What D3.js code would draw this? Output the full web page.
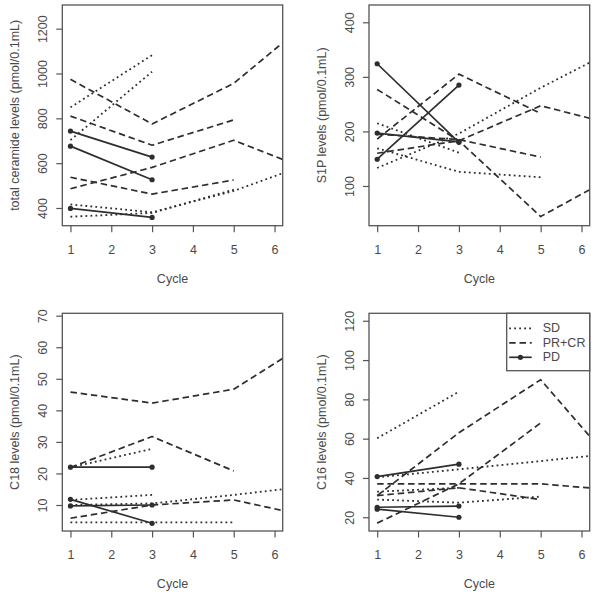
<!DOCTYPE html>
<html><head><meta charset="utf-8">
<script src="https://cdn.jsdelivr.net/npm/d3@7"></script>
<style>
body{margin:0;background:#fff}
text{font-family:"Liberation Sans",Arial,Helvetica,sans-serif;fill:#4a4a4a}
</style>
</head><body>
<svg id="c" width="598" height="601"></svg>
<script>
// ---------- data ----------
const cycleTicks = [1, 2, 3, 4, 5, 6];
const groups = ["SD", "PR+CR", "PD"];

// Each line: list of [cycle, value]
const ceramideSD = [
  [[1, 849], [3, 1082]],
  [[1, 703], [3, 1008]],
  [[1, 416], [3, 381], [5, 476], [7, 608]],
  [[1, 361], [3, 378], [5, 482]]
];
const ceramidePRCR = [
  [[1, 974], [3, 775], [5, 956], [7, 1258]],
  [[1, 810], [3, 680], [5, 793]],
  [[1, 486], [3, 581], [5, 702], [7, 560]],
  [[1, 537], [3, 462], [5, 525]]
];
const ceramidePD = [
  [[1, 743], [3, 627]],
  [[1, 676], [3, 526]],
  [[1, 398], [3, 358]]
];

const s1pSD = [
  [[1, 215], [3, 161]],
  [[1, 133], [3, 196], [5, 280], [7, 357]],
  [[1, 169], [3, 126], [5, 116]]
];
const s1pPRCR = [
  [[1, 277], [3, 183], [5, 44], [7, 126]],
  [[1, 186], [3, 305], [5, 233]],
  [[1, 195], [3, 185], [5, 153]],
  [[1, 160], [3, 183], [5, 247], [7, 209]]
];
const s1pPD = [
  [[1, 324], [3, 180]],
  [[1, 149], [3, 285]],
  [[1, 197], [3, 181]]
];

const c18SD = [
  [[1, 21.9], [3, 27.8]],
  [[1, 11.6], [3, 13.2]],
  [[1, 10.0], [3, 10.5], [5, 13.2], [7, 16.2]],
  [[1, 4.5], [3, 4.5], [5, 4.5]]
];
const c18PRCR = [
  [[1, 45.8], [3, 42.3], [5, 46.7], [7, 63.0]],
  [[1, 21.9], [3, 31.7], [5, 20.8]],
  [[1, 5.8], [3, 10.0], [5, 11.6], [7, 6.0]]
];
const c18PD = [
  [[1, 22.0], [3, 22.0]],
  [[1, 11.8], [3, 4.2]],
  [[1, 9.7], [3, 10.0]]
];

const c16SD = [
  [[1, 60.2], [3, 83.9]],
  [[1, 40.3], [3, 44.4], [5, 48.6], [7, 52.9]],
  [[1, 29.0], [3, 27.4], [5, 30.5]],
  [[1, 33.0], [3, 35.0]]
];
const c16PRCR = [
  [[1, 37.0], [3, 37.0], [5, 37.0], [7, 33.5]],
  [[1, 31.0], [3, 35.0], [5, 29.0]],
  [[1, 31.0], [3, 63.0], [5, 90.0], [7, 42.0]],
  [[1, 17.0], [3, 37.0], [5, 68.0]]
];
const c16PD = [
  [[1, 40.7], [3, 47.0]],
  [[1, 25.1], [3, 25.7]],
  [[1, 24.1], [3, 20.0]]
];

const yTicksCeramide = [400, 600, 800, 1000, 1200];
const yTicksS1P = [100, 200, 300, 400];
const yTicksC18 = [10, 20, 30, 40, 50, 60, 70];
const yTicksC16 = [20, 40, 60, 80, 100, 120];

const yLabels = [
  "total ceramide levels (pmol/0.1mL)",
  "S1P levels (pmol/0.1mL)",
  "C18 levels (pmol/0.1mL)",
  "C16 levels (pmol/0.1mL)"
];
const xLabel = "Cycle";

// ---------- layout ----------
const panels = [
  {box: {l: 62.3, r: 282.7, t: 5, b: 225.7}, ylim: [321, 1305.7], ticks: yTicksCeramide,
   series: {"SD": ceramideSD, "PR+CR": ceramidePRCR, "PD": ceramidePD}, ylab: yLabels[0]},
  {box: {l: 369, r: 589.7, t: 5, b: 225.7}, ylim: [27.2, 431.7], ticks: yTicksS1P,
   series: {"SD": s1pSD, "PR+CR": s1pPRCR, "PD": s1pPD}, ylab: yLabels[1]},
  {box: {l: 62.3, r: 282.7, t: 313.3, b: 531}, ylim: [1.76, 70.76], ticks: yTicksC18,
   series: {"SD": c18SD, "PR+CR": c18PRCR, "PD": c18PD}, ylab: yLabels[2]},
  {box: {l: 369, r: 589.7, t: 313.3, b: 531}, ylim: [13.0, 123.8], ticks: yTicksC16,
   series: {"SD": c16SD, "PR+CR": c16PRCR, "PD": c16PD}, ylab: yLabels[3], legend: true}
];
const xlim = [0.8, 6.2];

const lineColor = "#2e2e2e";
const styles = {
  "SD": {dash: "1.8,3.2", width: 1.8},
  "PR+CR": {dash: "6.5,3.8", width: 1.7},
  "PD": {dash: null, width: 1.7}
};

const svg = d3.select("#c");
const defs = svg.append("defs");

panels.forEach((p, i) => {
  const b = p.box;
  const x = d3.scaleLinear().domain(xlim).range([b.l, b.r]);
  const y = d3.scaleLinear().domain(p.ylim).range([b.b, b.t]);
  const g = svg.append("g");

  defs.append("clipPath").attr("id", "clip" + i)
    .append("rect").attr("x", b.l).attr("y", b.t)
    .attr("width", b.r - b.l).attr("height", b.b - b.t);

  const plot = g.append("g").attr("clip-path", `url(#clip${i})`);
  const line = d3.line().x(d => x(d[0])).y(d => y(d[1]));

  groups.forEach(grp => {
    const st = styles[grp];
    p.series[grp].forEach(s => {
      plot.append("path").datum(s)
        .attr("d", line)
        .attr("fill", "none")
        .attr("stroke", lineColor)
        .attr("stroke-width", st.width)
        .attr("stroke-dasharray", st.dash)
        .attr("stroke-linejoin", "round");
      if (grp === "PD") {
        plot.selectAll(null).data(s).enter().append("circle")
          .attr("cx", d => x(d[0])).attr("cy", d => y(d[1]))
          .attr("r", 2.6).attr("fill", lineColor);
      }
    });
  });

  // frame
  g.append("rect").attr("x", b.l).attr("y", b.t)
    .attr("width", b.r - b.l).attr("height", b.b - b.t)
    .attr("fill", "none").attr("stroke", "#555").attr("stroke-width", 1.3);

  // x axis
  const xa = g.append("g").attr("transform", `translate(0,${b.b})`)
    .call(d3.axisBottom(x).tickValues(cycleTicks).tickSize(6.5).tickPadding(13).tickFormat(d3.format("d")));
  xa.select(".domain").remove();
  xa.selectAll("line").attr("stroke", "#555").attr("stroke-width", 1.2);
  xa.selectAll("text").attr("font-size", 12.5).attr("fill", "#4a4a4a")
    .attr("font-family", "Liberation Sans, Arial, sans-serif");

  // y axis
  const ya = g.append("g").attr("transform", `translate(${b.l},0)`)
    .call(d3.axisLeft(y).tickValues(p.ticks).tickSize(6).tickFormat(d3.format("d")));
  ya.select(".domain").remove();
  ya.selectAll("line").attr("stroke", "#555").attr("stroke-width", 1.2);
  ya.selectAll("text")
    .attr("x", null).attr("dy", null)
    .attr("transform", "translate(-19.5,0) rotate(-90)")
    .attr("text-anchor", "middle")
    .attr("dominant-baseline", "central")
    .attr("font-size", 12.5).attr("fill", "#4a4a4a")
    .attr("font-family", "Liberation Sans, Arial, sans-serif");

  // axis titles
  g.append("text").attr("x", (b.l + b.r) / 2).attr("y", b.b + 53)
    .attr("text-anchor", "middle").attr("dominant-baseline", "central")
    .attr("font-size", 12.5).text(xLabel);
  g.append("text")
    .attr("transform", `translate(${b.l - 47.5},${(b.t + b.b) / 2}) rotate(-90)`)
    .attr("text-anchor", "middle").attr("dominant-baseline", "central")
    .attr("font-size", 12.5).text(p.ylab);

  // legend
  if (p.legend) {
    const lw = 83, lh = 57.4;
    const lg = g.append("g").attr("transform", `translate(${b.r - lw},${b.t})`);
    lg.append("rect").attr("width", lw).attr("height", lh)
      .attr("fill", "#fff").attr("stroke", "#555").attr("stroke-width", 1.3);
    groups.forEach((grp, k) => {
      const yy = 15 + k * 14.5;
      const st = styles[grp];
      lg.append("line").attr("x1", 2.5).attr("x2", 25).attr("y1", yy).attr("y2", yy)
        .attr("stroke", lineColor).attr("stroke-width", st.width)
        .attr("stroke-dasharray", st.dash);
      if (grp === "PD") {
        lg.append("circle").attr("cx", 13.7).attr("cy", yy).attr("r", 2.6).attr("fill", lineColor);
      }
      lg.append("text").attr("x", 36).attr("y", yy)
        .attr("dominant-baseline", "central").attr("font-size", 12.5).text(grp);
    });
  }
});
</script>
</body></html>
